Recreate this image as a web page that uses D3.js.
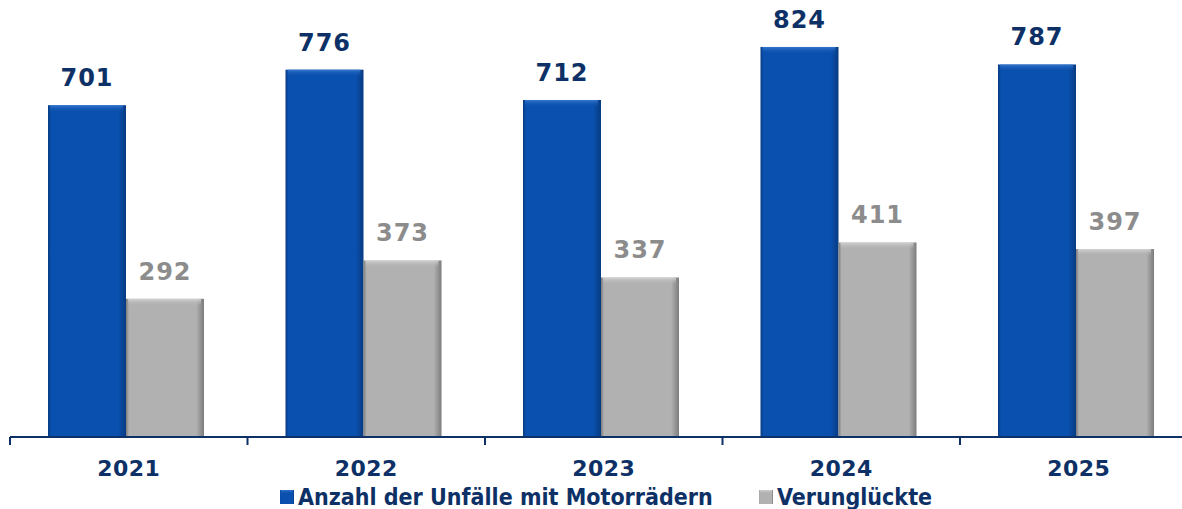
<!DOCTYPE html>
<html>
<head>
<meta charset="utf-8">
<script src="https://cdn.jsdelivr.net/npm/d3@7"></script>
<style>
  body { margin: 0; background: #fff; }
  svg { display: block; }
</style>
</head>
<body>
<svg id="chart"></svg>
<script>
// chart data
const years = ["2021", "2022", "2023", "2024", "2025"];
const seriesNames = ["Anzahl der Unfälle mit Motorrädern", "Verunglückte"];
const unfaelle = [701, 776, 712, 824, 787];
const verunglueckte = [292, 373, 337, 411, 397];

const width = 1182;
const height = 509;
const navy = "#0d3166";

const colors = {
    "Anzahl der Unfälle mit Motorrädern": { base: "#0a50ae", dark: "#073b82", light: "#3a7bd0", label: navy },
    "Verunglückte": { base: "#b1b1b1", dark: "#7c7c7c", light: "#d6d6d6", label: "#8c8c8c" }
};

const svg = d3.select("#chart")
    .attr("width", width)
    .attr("height", height);

const data = years.map((y, i) => ({
    year: y,
    values: [
        { key: seriesNames[0], value: unfaelle[i] },
        { key: seriesNames[1], value: verunglueckte[i] }
    ]
}));

// scales
const x = d3.scaleBand()
    .domain(years)
    .range([10, 1197.5])
    .padding(0);

const xInner = d3.scaleBand()
    .domain(seriesNames)
    .range([38, 194])
    .padding(0);

const y = d3.scaleLinear()
    .domain([0, 900])
    .range([437, 11]);

// bevel-ish gradients
const defs = svg.append("defs");
seriesNames.forEach((name, i) => {
    const c = colors[name];
    const g = defs.append("linearGradient")
        .attr("id", "grad" + i)
        .attr("x1", "0%").attr("x2", "100%").attr("y1", "0%").attr("y2", "0%");
    g.append("stop").attr("offset", "0%").attr("stop-color", c.dark);
    g.append("stop").attr("offset", "4%").attr("stop-color", c.base);
    g.append("stop").attr("offset", "90%").attr("stop-color", c.base);
    g.append("stop").attr("offset", "100%").attr("stop-color", c.dark);

    const t = defs.append("linearGradient")
        .attr("id", "top" + i)
        .attr("x1", "0%").attr("x2", "0%").attr("y1", "0%").attr("y2", "100%");
    t.append("stop").attr("offset", "0%").attr("stop-color", c.light).attr("stop-opacity", 0.9);
    t.append("stop").attr("offset", "100%").attr("stop-color", c.base).attr("stop-opacity", 0);
});

// bars
const groups = svg.selectAll(".year")
    .data(data)
    .enter()
    .append("g")
    .attr("class", "year")
    .attr("transform", d => `translate(${x(d.year)},0)`);

groups.selectAll(".bar")
    .data(d => d.values)
    .enter()
    .append("rect")
    .attr("class", "bar")
    .attr("x", d => xInner(d.key))
    .attr("y", d => y(d.value))
    .attr("width", xInner.bandwidth())
    .attr("height", d => y(0) - y(d.value))
    .attr("fill", d => `url(#grad${seriesNames.indexOf(d.key)})`);

// top highlight
groups.selectAll(".bar-top")
    .data(d => d.values)
    .enter()
    .append("rect")
    .attr("class", "bar-top")
    .attr("x", d => xInner(d.key) + 2)
    .attr("y", d => y(d.value))
    .attr("width", xInner.bandwidth() - 5)
    .attr("height", 7)
    .attr("fill", d => `url(#top${seriesNames.indexOf(d.key)})`);

// value labels
groups.selectAll(".val")
    .data(d => d.values)
    .enter()
    .append("text")
    .attr("class", "val")
    .attr("x", d => xInner(d.key) + xInner.bandwidth() / 2)
    .attr("y", d => y(d.value) - 19)
    .attr("text-anchor", "middle")
    .attr("font-family", "DejaVu Sans, Verdana, sans-serif")
    .attr("font-weight", "bold")
    .attr("font-size", 24)
    .attr("letter-spacing", 1)
    .attr("fill", d => colors[d.key].label)
    .text(d => d.value);

// x axis
const xAxis = d3.axisBottom(x).tickSize(0).tickPadding(23);
const axisG = svg.append("g")
    .attr("class", "axis")
    .attr("transform", `translate(0, ${y(0)})`)
    .call(xAxis);

axisG.select(".domain")
    .attr("stroke", navy)
    .attr("stroke-width", 2)
    .attr("d", `M${x.range()[0]},0H${width}`);

axisG.selectAll(".tick text")
    .attr("font-family", "DejaVu Sans, Verdana, sans-serif")
    .attr("font-weight", "bold")
    .attr("font-size", 22)
    .attr("letter-spacing", 0.5)
    .attr("fill", navy);

// boundary ticks between categories
const boundaries = years.map(yr => x(yr)).concat([x.range()[1]]);
axisG.selectAll(".sep")
    .data(boundaries)
    .enter()
    .append("line")
    .attr("class", "sep")
    .attr("x1", d => d).attr("x2", d => d)
    .attr("y1", 0).attr("y2", 8)
    .attr("stroke", navy)
    .attr("stroke-width", 2);

// legend
const legend = svg.append("g")
    .attr("class", "legend")
    .attr("transform", "translate(0, 490)");

const legendX = [280, 759];
const items = legend.selectAll(".item")
    .data(seriesNames)
    .enter()
    .append("g")
    .attr("class", "item")
    .attr("transform", (d, i) => `translate(${legendX[i]},0)`);

items.append("rect")
    .attr("width", 14)
    .attr("height", 14)
    .attr("fill", (d, i) => `url(#grad${i})`);

items.append("rect")
    .attr("x", 1)
    .attr("width", 12)
    .attr("height", 4)
    .attr("fill", (d, i) => `url(#top${i})`);

items.append("text")
    .attr("x", 18)
    .attr("y", 15)
    .attr("font-family", "DejaVu Sans Condensed, DejaVu Sans, sans-serif")
    .attr("font-stretch", "condensed")
    .attr("font-weight", "bold")
    .attr("font-size", 23)
    .attr("fill", navy)
    .text(d => d);
</script>
</body>
</html>
